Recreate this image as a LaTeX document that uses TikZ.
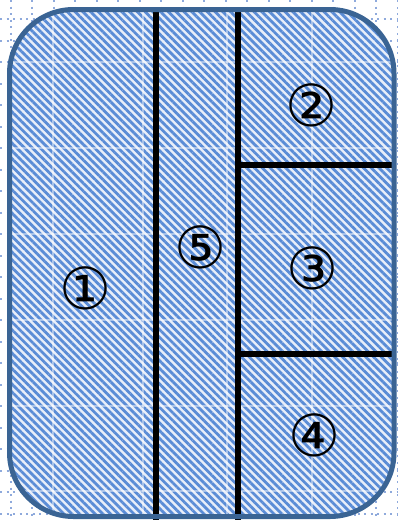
\documentclass[tikz,border=0pt]{standalone}
\usepackage{fontspec}
\newfontfamily\dejavu{DejaVu Sans}
\usetikzlibrary{patterns.meta}
\definecolor{gridblue}{HTML}{8FAADC}
\definecolor{bordercol}{HTML}{3A6494}
\definecolor{stripe}{HTML}{5A8CD6}
\definecolor{paleblue}{HTML}{E8EEF9}
\begin{document}
\begin{tikzpicture}[x=1pt,y=-1pt,
  gridline/.style={gridblue, line width=2pt, dash pattern=on 2pt off 4.5pt},
  majorline/.style={white, opacity=0.45, line width=1.2pt},
  divider/.style={line width=6pt, black},
  num/.style={font=\dejavu\fontsize{58}{58}\selectfont, inner sep=0pt}]
\useasboundingbox (0,0) rectangle (398,520);
% background dotted grid
\foreach \i in {0,...,18} \draw[gridline] (10.5+21.5*\i,0) -- (10.5+21.5*\i,520);
\foreach \j in {0,...,23} \draw[gridline] (0,19+21.5*\j) -- (398,19+21.5*\j);
% shape
\path[fill=paleblue] (9.5,9.5) [rounded corners=64pt] rectangle (394,516.5);
\path[pattern={Lines[angle=-45, distance=5.5pt, line width=2.8pt]}, pattern color=stripe]
  (9.5,9.5) [rounded corners=64pt] rectangle (394,516.5);
\begin{scope}
  \clip (9.5,9.5) [rounded corners=64pt] rectangle (394,516.5);
  \foreach \x in {53,143,227,312} \draw[majorline] (\x,0) -- (\x,520);
  \foreach \y in {62,148,234,320,406,491} \draw[majorline] (0,\y) -- (398,\y);
\end{scope}
% dividers
\coordinate (v1t) at (156,9);
\coordinate (v1b) at (156,520);
\coordinate (v2t) at (238,9);
\coordinate (v2b) at (238,520);
\coordinate (h1l) at (238,164.5);
\coordinate (h1r) at (395,164.5);
\coordinate (h2l) at (238,354);
\coordinate (h2r) at (395,354);
\draw[divider] (v1t) -- (v1b);
\draw[divider] (v2t) -- (v2b);
\draw[divider] (h1l) -- (h1r);
\draw[divider] (h2l) -- (h2r);
\draw[bordercol, line width=5pt] (9.5,9.5) [rounded corners=64pt] rectangle (394,516.5);
% labels
\node[num] (n1) at (85,288) {①};
\node[num] (n5) at (200,247) {⑤};
\node[num] (n2) at (311,105) {②};
\node[num] (n3) at (312,268) {③};
\node[num] (n4) at (314,435) {④};
\end{tikzpicture}
\end{document}
